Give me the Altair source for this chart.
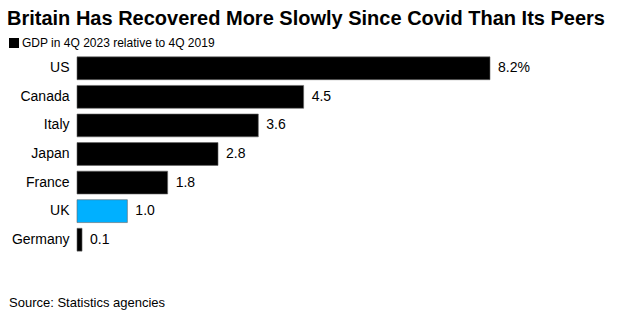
import altair as alt
import pandas as pd

countries = ["US", "Canada", "Italy", "Japan", "France", "UK", "Germany"]
values = [8.2, 4.5, 3.6, 2.8, 1.8, 1.0, 0.1]
labels = ["8.2%", "4.5", "3.6", "2.8", "1.8", "1.0", "0.1"]
highlight = [False, False, False, False, False, True, False]

df = pd.DataFrame({"country": countries, "value": values, "label": labels, "hl": highlight})

FONT = "Liberation Sans"

y_enc = alt.Y("country:N", sort=countries, title=None,
              scale=alt.Scale(paddingInner=0.2, paddingOuter=0.1),
              axis=alt.Axis(ticks=False, domain=False, labelFontSize=14, labelFont=FONT,
                            labelColor="#000000", labelPadding=8, grid=False))
x_enc = alt.X("value:Q", title=None, scale=alt.Scale(domain=[0, 8.2], nice=False),
              axis=None)

bars = alt.Chart(df).mark_bar(stroke="#666666", strokeWidth=0.6).encode(
    y=y_enc, x=x_enc,
    color=alt.Color("hl:N", scale=alt.Scale(domain=[False, True], range=["#000000", "#00B0FF"]), legend=None),
)

text = alt.Chart(df).mark_text(align="left", baseline="middle", dx=8, fontSize=14, font=FONT,
                               color="#000000").encode(
    y=alt.Y("country:N", sort=countries), x="value:Q", text="label:N")

notes = pd.DataFrame({"t": ["Source: Statistics agencies"]})
source = alt.Chart(notes).mark_text(
    align="left", baseline="alphabetic", fontSize=13, font=FONT, color="#000000"
).encode(x=alt.value(-68), y=alt.value(253), text="t:N")

sub = pd.DataFrame({"t": ["GDP in 4Q 2023 relative to 4Q 2019"]})
subtitle = alt.Chart(sub).mark_text(
    align="left", baseline="alphabetic", fontSize=12, font=FONT, color="#000000"
).encode(x=alt.value(-55), y=alt.value(-7), text="t:N")
square = alt.Chart(sub).mark_square(size=100, color="#000000", opacity=1).encode(
    x=alt.value(-63), y=alt.value(-11))

chart = alt.layer(bars, text, source, square, subtitle).properties(
    width=413, height=200,
    background="white",
    autosize=alt.AutoSizeParams(type="none"),
    padding={"left": 77, "top": 54, "right": 139, "bottom": 70},
    title=alt.TitleParams(
        text="Britain Has Recovered More Slowly Since Covid Than Its Peers",
        anchor="start", frame="bounds", dx=-2, offset=8,
        font=FONT, fontSize=20, fontWeight="bold", color="#000000",
    ),
).configure_view(strokeWidth=0, stroke="transparent")

chart.save("out.html", embed_options={"renderer": "svg", "actions": False})
